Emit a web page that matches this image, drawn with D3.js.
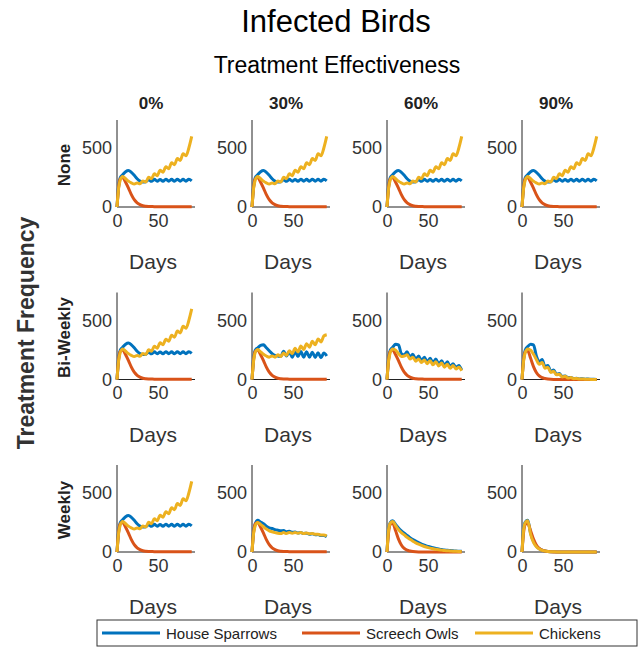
<!DOCTYPE html>
<html>
<head>
<meta charset="utf-8">
<script src="https://cdn.jsdelivr.net/npm/d3@7"></script>
<style>
  body { margin: 0; background: #fff; }
  text { font-family: "Liberation Sans", Arial, sans-serif; }
</style>
</head>
<body>
<svg id="chart" width="639" height="647"></svg>
<script>
// sample days (half-period steps of the weekly oscillation)
var days = [0,2,4,7,10.5,14,17.5,21,24.5,28,31.5,35,38.5,42,45.5,49,52.5,56,59.5,63,66.5,70,73.5,77,80.5,84,87.5,91];

var columns = ["0%", "30%", "60%", "90%"];
var rows = ["None", "Bi-Weekly", "Weekly"];
var seriesNames = ["House Sparrows", "Screech Owls", "Chickens"];
var yTicks = [0, 500];
var xTicks = [0, 50];

// no treatment / 0% effectiveness
var sparrowBase = [0,180,250,275,300,310,295,270,240,220,212,215,232,218,235,220,234,218,236,220,235,219,236,220,235,220,236,222];
var owlBase     = [0,170,240,250,210,160,105,62,36,20,11,7,5,4,3,3,3,3,3,3,3,3,3,3,3,3,3,3];
var chickenBase = [0,160,230,260,240,220,205,195,205,198,222,212,252,240,282,266,312,296,342,326,376,360,412,396,452,436,502,600];

// bi-weekly
var sparrowBW30 = [0,180,250,270,290,295,270,245,220,205,200,195,240,200,235,190,240,195,238,190,235,190,232,188,228,185,225,200];
var chickenBW30 = [0,160,230,255,235,215,200,190,200,190,210,195,225,205,245,220,265,235,285,255,305,275,325,295,345,320,370,380];
var sparrowBW60 = [0,180,250,275,300,295,220,210,235,190,215,170,200,160,190,150,180,140,175,130,160,120,150,110,135,100,120,80];
var chickenBW60 = [0,160,230,260,250,220,195,200,210,175,190,155,175,145,165,135,160,125,150,115,140,105,130,95,120,90,105,75];
var sparrowBW90 = [0,180,250,280,300,295,200,150,170,110,120,70,80,45,50,25,30,15,18,8,10,5,6,3,4,2,2,1];
var chickenBW90 = [0,160,230,260,250,215,170,130,145,95,105,60,70,40,45,22,28,12,16,7,9,4,5,2,3,1,1,1];

// weekly
var sparrowW30 = [0,180,240,270,255,240,220,205,200,190,185,180,182,172,176,168,170,162,165,158,160,152,155,146,148,140,140,130];
var chickenW30 = [0,160,225,250,235,215,195,180,172,165,160,158,165,158,166,160,166,160,165,158,162,155,158,150,152,145,145,138];
var sparrowW60 = [0,200,250,265,235,205,180,160,140,122,106,92,80,68,58,50,42,36,30,25,21,17,14,12,10,8,7,6];
var chickenW60 = [0,190,245,260,225,190,165,145,125,108,92,78,66,56,47,40,33,28,23,19,16,13,11,9,7,6,5,4];
var sparrowW90 = [0,200,255,270,160,90,50,28,16,9,5,3,2,1,1,1,1,1,1,1,1,1,1,1,1,1,1,1];
var chickenW90 = [0,190,250,265,150,82,45,25,14,8,4,2,2,1,1,1,1,1,1,1,1,1,1,1,1,1,1,1];
var owlFast    = [0,170,235,245,180,110,60,30,15,8,4,2,1,1,1,1,1,1,1,1,1,1,1,1,1,1,1,1];

// panels[row][col] = [sparrows, owls, chickens]
var baseSet = [sparrowBase, owlBase, chickenBase];
var panels = [
  [baseSet, baseSet, baseSet, baseSet],
  [baseSet, [sparrowBW30, owlBase, chickenBW30], [sparrowBW60, owlBase, chickenBW60], [sparrowBW90, owlFast, chickenBW90]],
  [baseSet, [sparrowW30, owlBase, chickenW30], [sparrowW60, owlFast, chickenW60], [sparrowW90, owlFast, chickenW90]]
];

var colors = ["#0072BD", "#D95319", "#EDB120"];
var svg = d3.select("#chart");

svg.append("text").attr("x", 336).attr("y", 32).attr("text-anchor", "middle")
  .attr("font-size", 31).attr("fill", "#000").text("Infected Birds");
svg.append("text").attr("x", 337).attr("y", 73).attr("text-anchor", "middle")
  .attr("font-size", 23).attr("fill", "#000").text("Treatment Effectiveness");
svg.append("text").attr("transform", "translate(34,333) rotate(-90)").attr("text-anchor", "middle")
  .attr("font-size", 23).attr("font-weight", "bold").attr("fill", "#333").text("Treatment Frequency");

var pw = 78, ph = 87;
var x = d3.scaleLinear().domain([0, 95]).range([0, pw]);
var y = d3.scaleLinear().domain([0, 740]).range([ph, 0]);
var line = d3.line().x(function(d, i) { return x(days[i]); }).y(function(d) { return y(d); })
  .curve(d3.curveMonotoneX);

rows.forEach(function(rowName, r) {
  var top = 120 + r * 172.5;
  svg.append("text").attr("transform", "translate(70," + (top + 45) + ") rotate(-90)")
    .attr("text-anchor", "middle").attr("font-size", 17).attr("font-weight", "bold")
    .attr("fill", "#222").text(rowName);

  columns.forEach(function(colName, c) {
    var left = 117 + c * 135;
    var g = svg.append("g").attr("transform", "translate(" + left + "," + top + ")");

    if (r === 0) {
      g.append("text").attr("x", pw / 2 - 5).attr("y", -11).attr("text-anchor", "middle")
        .attr("font-size", 17).attr("font-weight", "bold").attr("fill", "#222").text(colName);
    }

    var xa = g.append("g").attr("transform", "translate(0," + ph + ")")
      .call(d3.axisBottom(x).tickValues(xTicks).tickSize(0).tickPadding(7));
    var ya = g.append("g").call(d3.axisLeft(y).tickValues(yTicks).tickSize(0).tickPadding(5));
    [xa, ya].forEach(function(a) {
      a.select(".domain").attr("stroke", "#222").attr("stroke-width", 1);
      a.selectAll("text").attr("font-size", 18).attr("fill", "#333")
        .attr("font-family", "Liberation Sans, Arial, sans-serif");
    });
    ya.select(".domain").attr("d", "M0," + ph + "V0");
    xa.select(".domain").attr("d", "M0,0H" + pw);

    g.append("text").attr("x", pw / 2 - 3).attr("y", ph + 62).attr("text-anchor", "middle")
      .attr("font-size", 21).attr("fill", "#333").text("Days");

    panels[r][c].forEach(function(vals, s) {
      g.append("path").datum(vals).attr("d", line).attr("fill", "none")
        .attr("stroke", colors[s]).attr("stroke-width", 3).attr("stroke-linejoin", "round");
    });
  });
});

// legend
var lg = svg.append("g").attr("transform", "translate(97,620)");
lg.append("rect").attr("width", 540).attr("height", 26).attr("fill", "#fff")
  .attr("stroke", "#333").attr("stroke-width", 1);
var lx = [5, 205, 378];
seriesNames.forEach(function(name, i) {
  lg.append("line").attr("x1", lx[i]).attr("x2", lx[i] + 58).attr("y1", 13).attr("y2", 13)
    .attr("stroke", colors[i]).attr("stroke-width", 3);
  lg.append("text").attr("x", lx[i] + 64).attr("y", 19).attr("font-size", 15)
    .attr("fill", "#222").text(name);
});
</script>
</body>
</html>
